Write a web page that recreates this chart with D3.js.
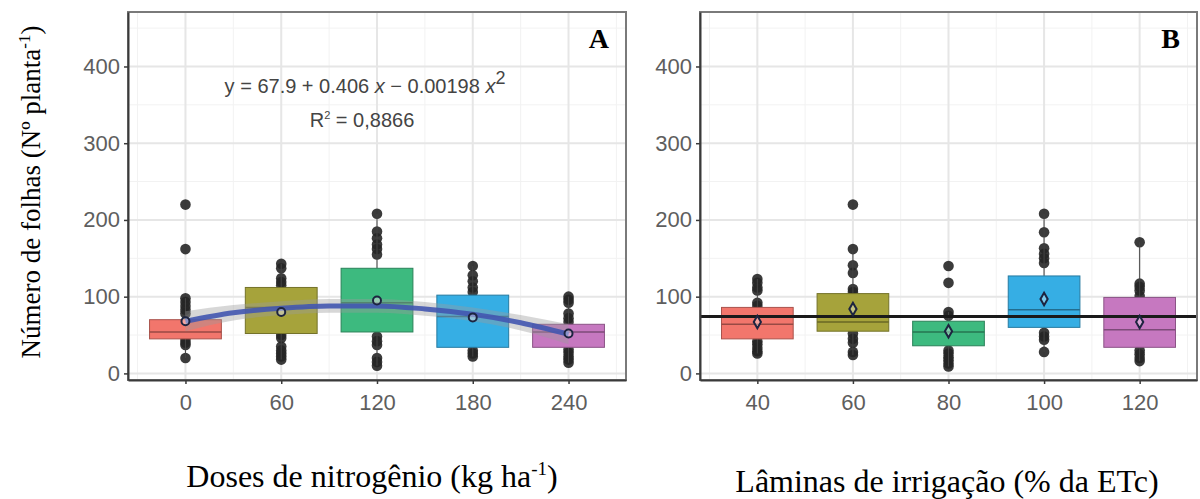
<!DOCTYPE html>
<html>
<head>
<meta charset="utf-8">
<script src="https://cdn.jsdelivr.net/npm/d3@7"></script>
<style>
  body { margin: 0; background: #fff; }
  svg { display: block; }
</style>
</head>
<body>
<div id="chart"></div>
<script>
// categories
const doseLabels = ["0", "60", "120", "180", "240"];
const laminaLabels = ["40", "60", "80", "100", "120"];
const yTicks = [0, 100, 200, 300, 400];
const yMinor = [50, 150, 250, 350, 450];
const boxColors = ["#f2766c", "#a6a33b", "#3dba7f", "#36aee4", "#c678c0"];

// panel A - nitrogen doses
const aQ1 = [45, 52, 54, 34, 34];
const aMedian = [54, 86, 92, 74, 54];
const aQ3 = [70, 112, 137, 102, 64];
const aMean = [68, 80, 95, 73, 52];
const aPoints = [
    [220, 162, 98, 93, 88, 83, 78, 44, 40, 37, 20],
    [143, 137, 124, 119, 115, 50, 46, 35, 30, 26, 22, 18],
    [208, 185, 176, 168, 162, 155, 48, 42, 37, 20, 15, 10],
    [140, 128, 120, 112, 106, 30, 26, 22],
    [100, 96, 92, 78, 72, 67, 31, 27, 22, 18, 14]
];
// fitted quadratic
const fitDose = [0, 30, 60, 90, 120, 150, 180, 210, 240];
const fitValue = [68, 79, 85, 88, 88, 84, 77, 66, 51];
const fitSe = [13, 10, 9, 9, 9, 9, 9, 10, 13];

// panel B - irrigation depths
const bQ1 = [45, 55, 36, 60, 34];
const bMedian = [64, 67, 54, 83, 57];
const bQ3 = [86, 104, 68, 127, 99];
const bMean = [67, 84, 55, 97, 67];
const bPoints = [
    [123, 118, 112, 108, 92, 88, 42, 38, 33, 29, 26],
    [220, 162, 141, 131, 110, 106, 52, 45, 40, 28, 24],
    [140, 118, 80, 75, 30, 26, 21, 17, 13, 9],
    [208, 184, 163, 156, 150, 144, 53, 48, 44, 28],
    [171, 117, 113, 108, 101, 30, 25, 20, 16]
];
const bOverallMean = 74;

const W = 1200, H = 499;
const plotTop = 12, plotBottom = 380;
const panels = [
    { left: 128, right: 626, labels: doseLabels, q1: aQ1, med: aMedian, q3: aQ3, mean: aMean, pts: aPoints, tag: "A", meanShape: d3.symbolCircle },
    { left: 700, right: 1197, labels: laminaLabels, q1: bQ1, med: bMedian, q3: bQ3, mean: bMean, pts: bPoints, tag: "B", meanShape: d3.symbolDiamond }
];

const svg = d3.select("#chart").append("svg")
    .attr("width", W)
    .attr("height", H);

const y = d3.scaleLinear()
    .domain([-8.6, 471])
    .range([plotBottom, plotTop]);

panels.forEach((p, pi) => {
    const g = svg.append("g");
    const x = d3.scalePoint()
        .domain(p.labels)
        .range([p.left, p.right])
        .padding(0.6);
    const step = x.step();
    const bw = step * 0.75;

    // background + grid
    g.append("rect")
        .attr("x", p.left).attr("y", plotTop)
        .attr("width", p.right - p.left).attr("height", plotBottom - plotTop)
        .attr("fill", "#fff");

    g.selectAll(".ygm").data(yMinor).enter().append("line")
        .attr("x1", p.left).attr("x2", p.right)
        .attr("y1", d => y(d)).attr("y2", d => y(d))
        .attr("stroke", "#f2f2f2").attr("stroke-width", 1);
    const xMinor = [x(p.labels[0]) - step / 2].concat(p.labels.map(d => x(d) + step / 2));
    g.selectAll(".xgm").data(xMinor).enter().append("line")
        .attr("x1", d => d).attr("x2", d => d)
        .attr("y1", plotTop).attr("y2", plotBottom)
        .attr("stroke", "#f2f2f2").attr("stroke-width", 1);
    g.selectAll(".yg").data(yTicks).enter().append("line")
        .attr("x1", p.left).attr("x2", p.right)
        .attr("y1", d => y(d)).attr("y2", d => y(d))
        .attr("stroke", "#e6e6e6").attr("stroke-width", 2);
    g.selectAll(".xg").data(p.labels).enter().append("line")
        .attr("x1", d => x(d)).attr("x2", d => x(d))
        .attr("y1", plotTop).attr("y2", plotBottom)
        .attr("stroke", "#e6e6e6").attr("stroke-width", 2);

    // raw points
    p.labels.forEach((lab, i) => {
        g.selectAll(null).data(p.pts[i]).enter().append("circle")
            .attr("cx", x(lab))
            .attr("cy", d => y(d))
            .attr("r", 5.3)
            .attr("fill", "#262626")
            .attr("opacity", 0.9);
    });

    // boxplots
    p.labels.forEach((lab, i) => {
        const iqr = p.q3[i] - p.q1[i];
        const hiPts = p.pts[i].filter(v => v <= p.q3[i] + 1.5 * iqr);
        const loPts = p.pts[i].filter(v => v >= p.q1[i] - 1.5 * iqr);
        const hi = d3.max(hiPts.concat([p.q3[i]]));
        const lo = d3.min(loPts.concat([p.q1[i]]));
        const cx = x(lab);
        g.append("line")
            .attr("x1", cx).attr("x2", cx)
            .attr("y1", y(p.q3[i])).attr("y2", y(hi))
            .attr("stroke", "#444").attr("stroke-width", 1);
        g.append("line")
            .attr("x1", cx).attr("x2", cx)
            .attr("y1", y(p.q1[i])).attr("y2", y(lo))
            .attr("stroke", "#444").attr("stroke-width", 1);
        g.append("rect")
            .attr("x", cx - bw / 2)
            .attr("y", y(p.q3[i]))
            .attr("width", bw)
            .attr("height", y(p.q1[i]) - y(p.q3[i]))
            .attr("fill", boxColors[i])
            .attr("stroke", d3.color(boxColors[i]).darker(1.0))
            .attr("stroke-width", 1);
        g.append("line")
            .attr("x1", cx - bw / 2).attr("x2", cx + bw / 2)
            .attr("y1", y(p.med[i])).attr("y2", y(p.med[i]))
            .attr("stroke", d3.color(boxColors[i]).darker(1.3))
            .attr("stroke-width", 1.5);
    });

    if (pi === 0) {
        // fitted curve with confidence band
        const xl = d3.scaleLinear()
            .domain([0, 240])
            .range([x("0"), x("240")]);
        const fit = fitDose.map((d, i) => ({ d: d, v: fitValue[i], se: fitSe[i] }));
        g.append("path")
            .datum(fit)
            .attr("fill", "#9a9a9a")
            .attr("opacity", 0.4)
            .attr("d", d3.area()
                .x(d => xl(d.d))
                .y0(d => y(d.v - d.se))
                .y1(d => y(d.v + d.se))
                .curve(d3.curveMonotoneX));
        g.append("path")
            .datum(fit)
            .attr("fill", "none")
            .attr("stroke", "#4256b0")
            .attr("stroke-width", 5)
            .attr("opacity", 0.9)
            .attr("d", d3.line()
                .x(d => xl(d.d))
                .y(d => y(d.v))
                .curve(d3.curveMonotoneX));
    } else {
        g.append("line")
            .attr("x1", p.left).attr("x2", p.right)
            .attr("y1", y(bOverallMean)).attr("y2", y(bOverallMean))
            .attr("stroke", "#1a1a1a")
            .attr("stroke-width", 3);
    }

    // means
    g.selectAll(".mean").data(p.mean).enter().append("path")
        .attr("transform", (d, i) => `translate(${x(p.labels[i])},${y(d)})`)
        .attr("d", d3.symbol().type(p.meanShape).size(pi === 0 ? 50 : 45))
        .attr("fill", "#ffffff")
        .attr("fill-opacity", 0.35)
        .attr("stroke", "#1d2440")
        .attr("stroke-width", 2);

    // border
    g.append("rect")
        .attr("x", p.left).attr("y", plotTop)
        .attr("width", p.right - p.left).attr("height", plotBottom - plotTop)
        .attr("fill", "none")
        .attr("stroke", "#7a7a7a")
        .attr("stroke-width", 2);

    // axes
    const yAxis = g.append("g")
        .attr("transform", `translate(${p.left},0)`)
        .call(d3.axisLeft(y).tickValues(yTicks).tickSize(4).tickSizeOuter(0).tickPadding(4));
    const xAxis = g.append("g")
        .attr("transform", `translate(0,${plotBottom})`)
        .call(d3.axisBottom(x).tickSize(4).tickSizeOuter(0).tickPadding(10));
    [yAxis, xAxis].forEach(ax => {
        ax.select(".domain").attr("stroke", "#3a3a3a").attr("stroke-width", 2);
        ax.selectAll(".tick line").attr("stroke", "#3a3a3a").attr("stroke-width", 1.5);
        ax.selectAll(".tick text")
            .attr("fill", "#5e5e5e")
            .style("font-family", "'Liberation Sans', Arial, sans-serif")
            .style("font-size", "22px");
    });

    // panel tag
    g.append("text")
        .attr("x", p.right - 17)
        .attr("y", 48)
        .attr("text-anchor", "end")
        .style("font-family", "'Liberation Serif', 'Times New Roman', serif")
        .style("font-weight", "bold")
        .style("font-size", "28px")
        .attr("fill", "#000")
        .text(p.tag);
});

// equation and R2
const eq = svg.append("text")
    .attr("x", 365).attr("y", 93)
    .attr("text-anchor", "middle")
    .attr("fill", "#444")
    .style("font-family", "'Liberation Sans', Arial, sans-serif")
    .style("font-size", "20px");
eq.append("tspan").text("y = 67.9 + 0.406 ");
eq.append("tspan").style("font-style", "italic").text("x");
eq.append("tspan").text(" \u2212 0.00198 ");
eq.append("tspan").style("font-style", "italic").text("x");
eq.append("tspan").attr("dy", -9).style("font-size", "18px").text("2");

const r2 = svg.append("text")
    .attr("x", 362).attr("y", 127)
    .attr("text-anchor", "middle")
    .attr("fill", "#444")
    .style("font-family", "'Liberation Sans', Arial, sans-serif")
    .style("font-size", "20px");
r2.append("tspan").text("R");
r2.append("tspan").attr("dy", -8).style("font-size", "11px").text("2");
r2.append("tspan").attr("dy", 8).text(" = 0,8866");

// axis titles
const serif = "'Liberation Serif', 'Times New Roman', serif";
const yt = svg.append("text")
    .attr("transform", "translate(40,192) rotate(-90)")
    .attr("text-anchor", "middle")
    .style("font-family", serif)
    .style("font-size", "27px");
yt.append("tspan").text("Número de folhas (Nº planta");
yt.append("tspan").attr("dy", -10).style("font-size", "17px").text("-1");
yt.append("tspan").attr("dy", 10).text(")");

const xt1 = svg.append("text")
    .attr("x", 372).attr("y", 487)
    .attr("text-anchor", "middle")
    .style("font-family", serif)
    .style("font-size", "32px");
xt1.append("tspan").text("Doses de nitrogênio (kg ha");
xt1.append("tspan").attr("dy", -12).style("font-size", "19px").text("-1");
xt1.append("tspan").attr("dy", 12).text(")");

svg.append("text")
    .attr("x", 947).attr("y", 492)
    .attr("text-anchor", "middle")
    .style("font-family", serif)
    .style("font-size", "32px")
    .text("Lâminas de irrigação (% da ETc)");
</script>
</body>
</html>
